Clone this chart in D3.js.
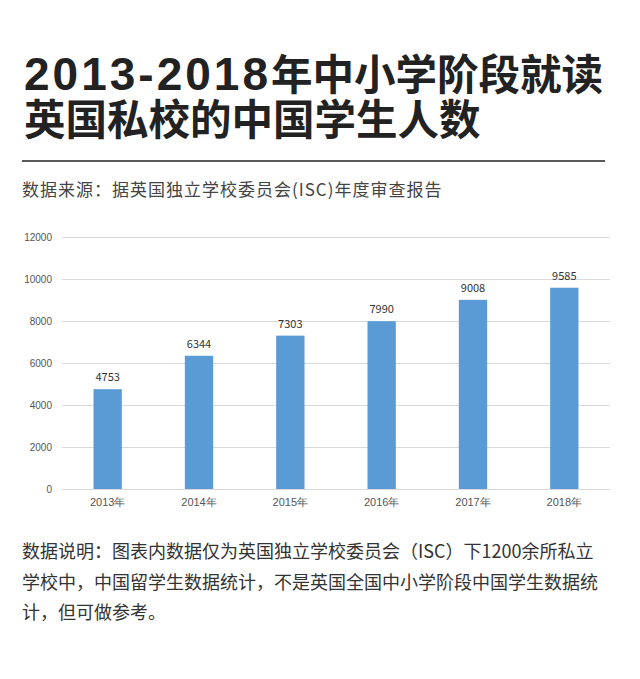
<!DOCTYPE html>
<html>
<head>
<meta charset="utf-8">
<script src="https://cdn.jsdelivr.net/npm/d3@7.9.0/dist/d3.min.js"></script>
<style>
  body { margin: 0; background: #fff; }
  #wrap { position: relative; width: 640px; height: 679px; }
  svg { display: block; font-family: "Noto Sans CJK SC", "Noto Sans", sans-serif; }
  #title { position: absolute; left: 24px; top: 50px; font-family: "Noto Sans CJK SC", sans-serif;
           font-weight: 700; font-size: 41.5px; color: #222; white-space: nowrap; }
  #title div { height: 45px; line-height: 45px; }
  #title .num { font-family: "Liberation Sans", sans-serif; font-size: 46px; letter-spacing: 3px; line-height: 45px; }
</style>
</head>
<body>
<div id="wrap">
<svg id="chart" width="640" height="679"></svg>
<div id="title"></div>
</div>
<script>
const years = ["2013年", "2014年", "2015年", "2016年", "2017年", "2018年"];
const students = [4753, 6344, 7303, 7990, 9008, 9585];
const yTicks = [0, 2000, 4000, 6000, 8000, 10000, 12000];

const titleYears = "2013-2018";
const titleRest = "年中小学阶段就读";
const titleLine2 = "英国私校的中国学生人数";
const sourceText = "数据来源：据英国独立学校委员会(ISC)年度审查报告";
const noteLines = [
  "数据说明：图表内数据仅为英国独立学校委员会（ISC）下1200余所私立",
  "学校中，中国留学生数据统计，不是英国全国中小学阶段中国学生数据统",
  "计，但可做参考。"
];

// title
const title = d3.select("#title");
const line1 = title.append("div");
line1.append("span").attr("class", "num").text(titleYears);
line1.append("span").text(titleRest);
title.append("div").text(titleLine2);

const svg = d3.select("#chart");

svg.append("line")
  .attr("x1", 22).attr("x2", 605)
  .attr("y1", 161).attr("y2", 161)
  .attr("stroke", "#222").attr("stroke-width", 1.5);

svg.append("text")
  .attr("x", 22).attr("y", 196)
  .attr("font-size", 17)
  .attr("letter-spacing", 1)
  .attr("fill", "#444")
  .text(sourceText);

// chart area
const x = d3.scaleBand().domain(years).range([62, 610]).paddingInner(0.69).paddingOuter(0.345);
const y = d3.scaleLinear().domain([0, 12000]).range([489, 237]);

const yAxis = svg.append("g")
  .attr("transform", "translate(62,0)")
  .call(d3.axisLeft(y).tickValues(yTicks).tickFormat(d3.format("d")).tickSize(-548).tickPadding(10));
yAxis.select(".domain").remove();
yAxis.selectAll(".tick line").attr("stroke", "#d9d9d9");
yAxis.selectAll(".tick text").attr("font-size", 10).attr("fill", "#555")
  .attr("font-family", "Liberation Sans, sans-serif");

const xAxis = svg.append("g")
  .attr("transform", "translate(0,489)")
  .call(d3.axisBottom(x).tickSize(0).tickPadding(9));
xAxis.select(".domain").remove();
xAxis.selectAll(".tick text").attr("font-size", 11).attr("fill", "#555");

svg.selectAll("rect.bar")
  .data(students)
  .enter()
  .append("rect")
  .attr("class", "bar")
  .attr("x", (d, i) => x(years[i]))
  .attr("width", x.bandwidth())
  .attr("y", d => y(d))
  .attr("height", d => y(0) - y(d))
  .attr("fill", "#5b9bd5");

svg.selectAll("text.val")
  .data(students)
  .enter()
  .append("text")
  .attr("class", "val")
  .attr("x", (d, i) => x(years[i]) + x.bandwidth() / 2)
  .attr("y", d => y(d) - 8)
  .attr("text-anchor", "middle")
  .attr("font-size", 11)
  .attr("fill", "#333")
  .text(d => d);

// footnote
svg.selectAll("text.note")
  .data(noteLines)
  .enter()
  .append("text")
  .attr("class", "note")
  .attr("x", 22)
  .attr("y", (d, i) => 558 + i * 30.5)
  .attr("font-size", 18)
  .attr("fill", "#333")
  .text(d => d);
</script>
</body>
</html>
